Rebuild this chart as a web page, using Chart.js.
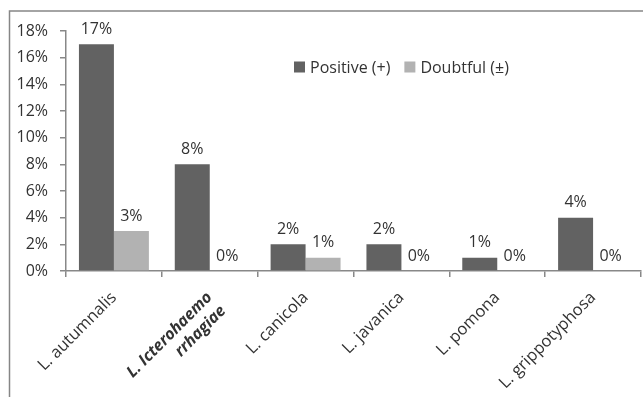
<!DOCTYPE html>
<html>
<head>
<meta charset="utf-8">
<script src="https://cdn.jsdelivr.net/npm/chart.js@4/dist/chart.umd.min.js"></script>
<style>
  html, body { margin: 0; padding: 0; background: #fff; }
  #wrap { width: 643px; height: 397px; position: relative; }
</style>
</head>
<body>
<div id="wrap"><canvas id="myChart" width="643" height="397"></canvas></div>
<script>
const categories = ['L. autumnalis', ['L. Icterohaemo', 'rrhagiae'], 'L. canicola', 'L. javanica', 'L. pomona', 'L. grippotyphosa'];
const positive = [17, 8, 2, 2, 1, 4];
const doubtful = [3, 0, 1, 0, 0, 0];
const yTicks = [0, 2, 4, 6, 8, 10, 12, 14, 16, 18];

const FONT = '"Open Sans", sans-serif';

// frame lines round the chart (top and left visible)
const framePlugin = {
    id: 'frame',
    beforeDraw(chart) {
        const ctx = chart.ctx;
        ctx.save();
        ctx.strokeStyle = '#868686';
        ctx.lineWidth = 1.5;
        ctx.beginPath();
        ctx.moveTo(9.5, 400);
        ctx.lineTo(9.5, 11);
        ctx.lineTo(650, 11);
        ctx.stroke();
        ctx.restore();
    }
};

// value labels above bars
const labelPlugin = {
    id: 'valueLabels',
    afterDatasetsDraw(chart) {
        const ctx = chart.ctx;
        ctx.save();
        ctx.font = '16px ' + FONT;
        ctx.fillStyle = '#333';
        ctx.textAlign = 'center';
        ctx.textBaseline = 'bottom';
        chart.data.datasets.forEach(function(ds, i) {
            chart.getDatasetMeta(i).data.forEach(function(bar, j) {
                ctx.fillText(ds.data[j] + '%', bar.x, bar.y - 7);
            });
        });
        ctx.restore();
    }
};

// legend inside the plot area
const legendPlugin = {
    id: 'innerLegend',
    afterDraw(chart) {
        const ctx = chart.ctx;
        ctx.save();
        ctx.font = '16px ' + FONT;
        ctx.textBaseline = 'middle';
        let x = 294;
        const y = 67;
        chart.data.datasets.forEach(function(ds) {
            ctx.fillStyle = ds.backgroundColor;
            ctx.fillRect(x, y - 5.5, 11, 11);
            ctx.fillStyle = '#333';
            ctx.fillText(ds.label, x + 16, y + 1);
            x += 16 + ctx.measureText(ds.label).width + 14;
        });
        ctx.restore();
    }
};

new Chart(document.getElementById('myChart').getContext('2d'), {
    type: 'bar',
    data: {
        labels: categories,
        datasets: [
            { label: 'Positive (+)', data: positive, backgroundColor: '#626262', categoryPercentage: 0.73, barPercentage: 1 },
            { label: 'Doubtful (±)', data: doubtful, backgroundColor: '#b2b2b2', categoryPercentage: 0.73, barPercentage: 1 }
        ]
    },
    options: {
        responsive: false,
        animation: false,
        layout: { padding: { top: 31, right: 2, left: 0, bottom: 0 } },
        plugins: {
            legend: { display: false },
            tooltip: { enabled: false }
        },
        scales: {
            x: {
                grid: { offset: true, drawOnChartArea: false, tickLength: 6, color: '#888', lineWidth: 1.5 },
                border: { color: '#888', width: 1.5 },
                ticks: {
                    maxRotation: 45,
                    minRotation: 45,
                    padding: 11,
                    color: '#333',
                    font: function(c) {
                        return c.index === 1
                            ? { family: FONT, size: 16, style: 'italic', weight: 'bold' }
                            : { family: FONT, size: 16.5 };
                    }
                },
                afterFit: function(scale) { scale.height = 126; }
            },
            y: {
                min: 0,
                max: 18,
                afterBuildTicks: function(scale) {
                    scale.ticks = yTicks.map(v => ({ value: v }));
                },
                grid: { drawOnChartArea: false, tickLength: 6, color: '#888', lineWidth: 1.5 },
                border: { color: '#888', width: 1.5 },
                ticks: {
                    padding: 12,
                    color: '#333',
                    font: { family: FONT, size: 16 },
                    callback: v => v + '%'
                },
                afterFit: function(scale) { scale.width = 66; }
            }
        }
    },
    plugins: [framePlugin, labelPlugin, legendPlugin]
});
</script>
</body>
</html>
